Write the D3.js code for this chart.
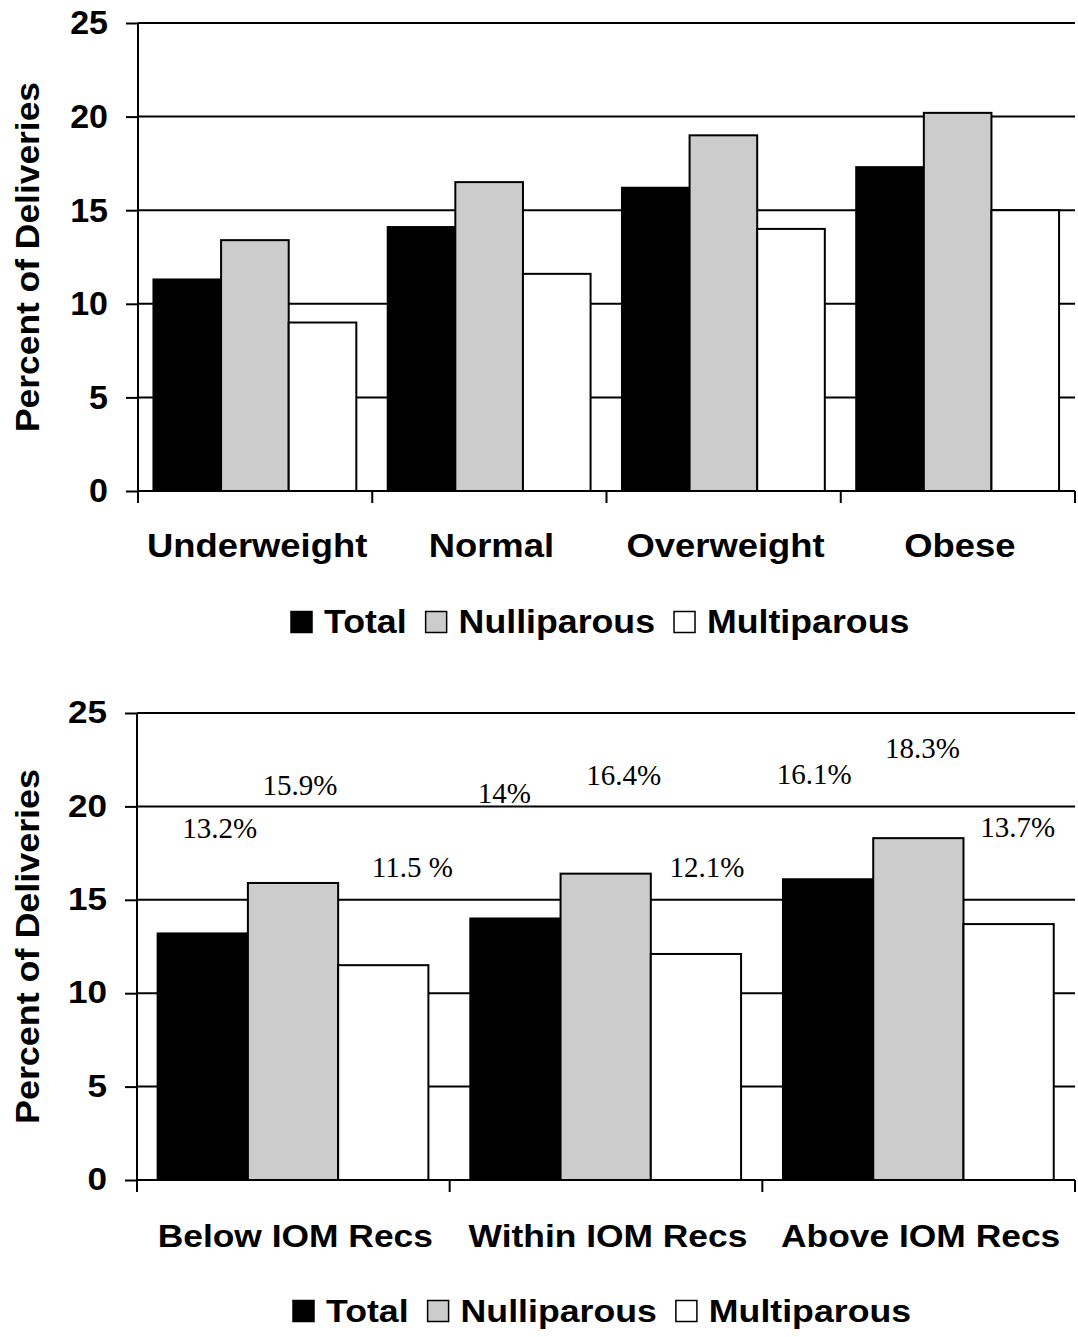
<!DOCTYPE html>
<html><head><meta charset="utf-8">
<script src="https://cdn.jsdelivr.net/npm/d3@7"></script>
<style>body{margin:0;background:#fff} svg{display:block}</style>
</head><body>
<script>
// ---------- data ----------
const seriesNames = ["Total", "Nulliparous", "Multiparous"];
const seriesColors = ["#000000", "#cccccc", "#ffffff"];
const yTicks = [0, 5, 10, 15, 20, 25];
const yTitle = "Percent of Deliveries";

const bmiCategories = ["Underweight", "Normal", "Overweight", "Obese"];
const bmiTotal = [11.3, 14.1, 16.2, 17.3];
const bmiNulliparous = [13.4, 16.5, 19.0, 20.2];
const bmiMultiparous = [9.0, 11.6, 14.0, 15.0];

const iomCategories = ["Below IOM Recs", "Within IOM Recs", "Above IOM Recs"];
const iomTotal = [13.2, 14.0, 16.1];
const iomNulliparous = [15.9, 16.4, 18.3];
const iomMultiparous = [11.5, 12.1, 13.7];
const iomLabels = [["13.2%", "15.9%", "11.5 %"], ["14%", "16.4%", "12.1%"], ["16.1%", "18.3%", "13.7%"]];
// hand-placed label nudges (dx, dy in px from bar-top centre), as in the original
const iomLabelNudge = [[[17, -95], [7, -88], [29, -88]], [[-11, -115], [18, -89], [11, -77]], [[-14, -95], [4, -80], [9, -87]]];

// ---------- drawing ----------
const W = 1078, H = 1337;
const svg = d3.select("body").append("svg").attr("width", W).attr("height", H);

function stretchText(sel, f) {
  sel.each(function () {
    const w = this.getComputedTextLength();
    if (f !== 1) d3.select(this).attr("textLength", w * f).attr("lengthAdjust", "spacingAndGlyphs");
  });
}

function drawChart(o) {
  const g = svg.append("g");
  const x = d3.scaleBand().domain(o.categories).range([o.left, o.right]).padding(0);
  const bw = x.bandwidth();
  const xs = d3.scaleBand().domain(seriesNames).range([bw * 0.066, bw * 0.932]).padding(0);
  const y = d3.scaleLinear().domain([0, 25]).range([o.y0, o.y25]);

  // gridlines
  g.selectAll("line.grid").data(yTicks).join("line")
    .attr("x1", o.left).attr("x2", o.right)
    .attr("y1", d => y(d)).attr("y2", d => y(d))
    .attr("stroke", "#000").attr("stroke-width", 2);

  // bars
  const rows = o.categories.map((c, i) => ({ c, i, vals: o.series.map(s => s[i]) }));
  const grp = g.selectAll("g.cat").data(rows).join("g")
    .attr("transform", d => `translate(${x(d.c)},0)`);
  grp.selectAll("rect").data(d => d.vals.map((v, k) => ({ v, k }))).join("rect")
    .attr("x", d => xs(seriesNames[d.k]))
    .attr("width", xs.bandwidth())
    .attr("y", d => y(d.v))
    .attr("height", d => y(0) - y(d.v))
    .attr("fill", d => seriesColors[d.k])
    .attr("stroke", "#000").attr("stroke-width", 2);

  // value labels
  if (o.labels) {
    grp.selectAll("text.val").data(d => d.vals.map((v, k) => ({ v, k, i: d.i }))).join("text")
      .attr("x", d => xs(seriesNames[d.k]) + xs.bandwidth() / 2 + o.nudge[d.i][d.k][0])
      .attr("y", d => y(d.v) + o.nudge[d.i][d.k][1])
      .attr("text-anchor", "middle")
      .attr("font-family", "'Liberation Serif','Times New Roman',serif")
      .attr("font-size", 29)
      .attr("fill", "#000")
      .text(d => o.labels[d.i][d.k]);
  }

  // y axis
  const yAxis = d3.axisLeft(y).tickValues(yTicks).tickSize(12).tickPadding(18);
  const ya = g.append("g").attr("transform", `translate(${o.left},0)`).call(yAxis);
  ya.select(".domain").attr("d", `M0,${o.y25}V${o.y0 + 12}`).attr("stroke", "#000").attr("stroke-width", 2);
  ya.selectAll(".tick line").attr("stroke", "#000").attr("stroke-width", 2);
  ya.selectAll(".tick text")
    .attr("font-family", "'Liberation Sans',Arial,sans-serif")
    .attr("font-weight", "bold").attr("font-size", o.font).attr("fill", "#000")
    .call(stretchText, o.tickStretch);

  // x axis ticks at band boundaries
  const bounds = o.categories.map(c => x(c)).concat([o.right]);
  g.selectAll("line.xt").data(bounds.slice(1)).join("line")
    .attr("x1", d => d).attr("x2", d => d)
    .attr("y1", o.y0).attr("y2", o.y0 + 12)
    .attr("stroke", "#000").attr("stroke-width", 2);
  g.selectAll("text.cat").data(o.categories).join("text")
    .attr("x", d => x(d) + bw / 2 + 2)
    .attr("y", o.catBaseline)
    .attr("text-anchor", "middle")
    .attr("font-family", "'Liberation Sans',Arial,sans-serif")
    .attr("font-weight", "bold").attr("font-size", o.font).attr("fill", "#000")
    .text(d => d)
    .call(stretchText, o.catStretch);

  // y title
  g.append("text")
    .attr("transform", `translate(${o.titleX},${(o.y0 + o.y25) / 2}) rotate(-90)`)
    .attr("text-anchor", "middle")
    .attr("font-family", "'Liberation Sans',Arial,sans-serif")
    .attr("font-weight", "bold").attr("font-size", 34).attr("fill", "#000")
    .attr("textLength", o.titleLen).attr("lengthAdjust", "spacingAndGlyphs")
    .text(yTitle);

  // legend
  let cx = o.legendX;
  const lg = g.append("g");
  seriesNames.forEach((name, k) => {
    lg.append("rect").attr("x", cx).attr("y", o.legendBaseline - 21.5)
      .attr("width", 21).attr("height", 21)
      .attr("fill", seriesColors[k]).attr("stroke", "#000").attr("stroke-width", 1.5);
    cx += 21 + 12;
    const t = lg.append("text").attr("x", cx).attr("y", o.legendBaseline)
      .attr("font-family", "'Liberation Sans',Arial,sans-serif")
      .attr("font-weight", "bold").attr("font-size", o.font).attr("fill", "#000")
      .text(name);
    const w = t.node().getComputedTextLength() * o.legendStretch;
    t.attr("textLength", w).attr("lengthAdjust", "spacingAndGlyphs");
    cx += w + 19;
  });
}

drawChart({
  categories: bmiCategories,
  series: [bmiTotal, bmiNulliparous, bmiMultiparous],
  left: 138, right: 1075, y0: 491, y25: 23,
  font: 34, tickStretch: 1.0, catStretch: 1.07, legendStretch: 1.05,
  catBaseline: 557, legendBaseline: 633, legendX: 291,
  titleX: 38.5, titleLen: 350
});

drawChart({
  categories: iomCategories,
  series: [iomTotal, iomNulliparous, iomMultiparous],
  labels: iomLabels, nudge: iomLabelNudge,
  left: 137, right: 1075, y0: 1180, y25: 713,
  font: 30.5, tickStretch: 1.15, catStretch: 1.16, legendStretch: 1.17,
  catBaseline: 1247, legendBaseline: 1322, legendX: 293,
  titleX: 38.5, titleLen: 355
});
</script>
</body></html>
